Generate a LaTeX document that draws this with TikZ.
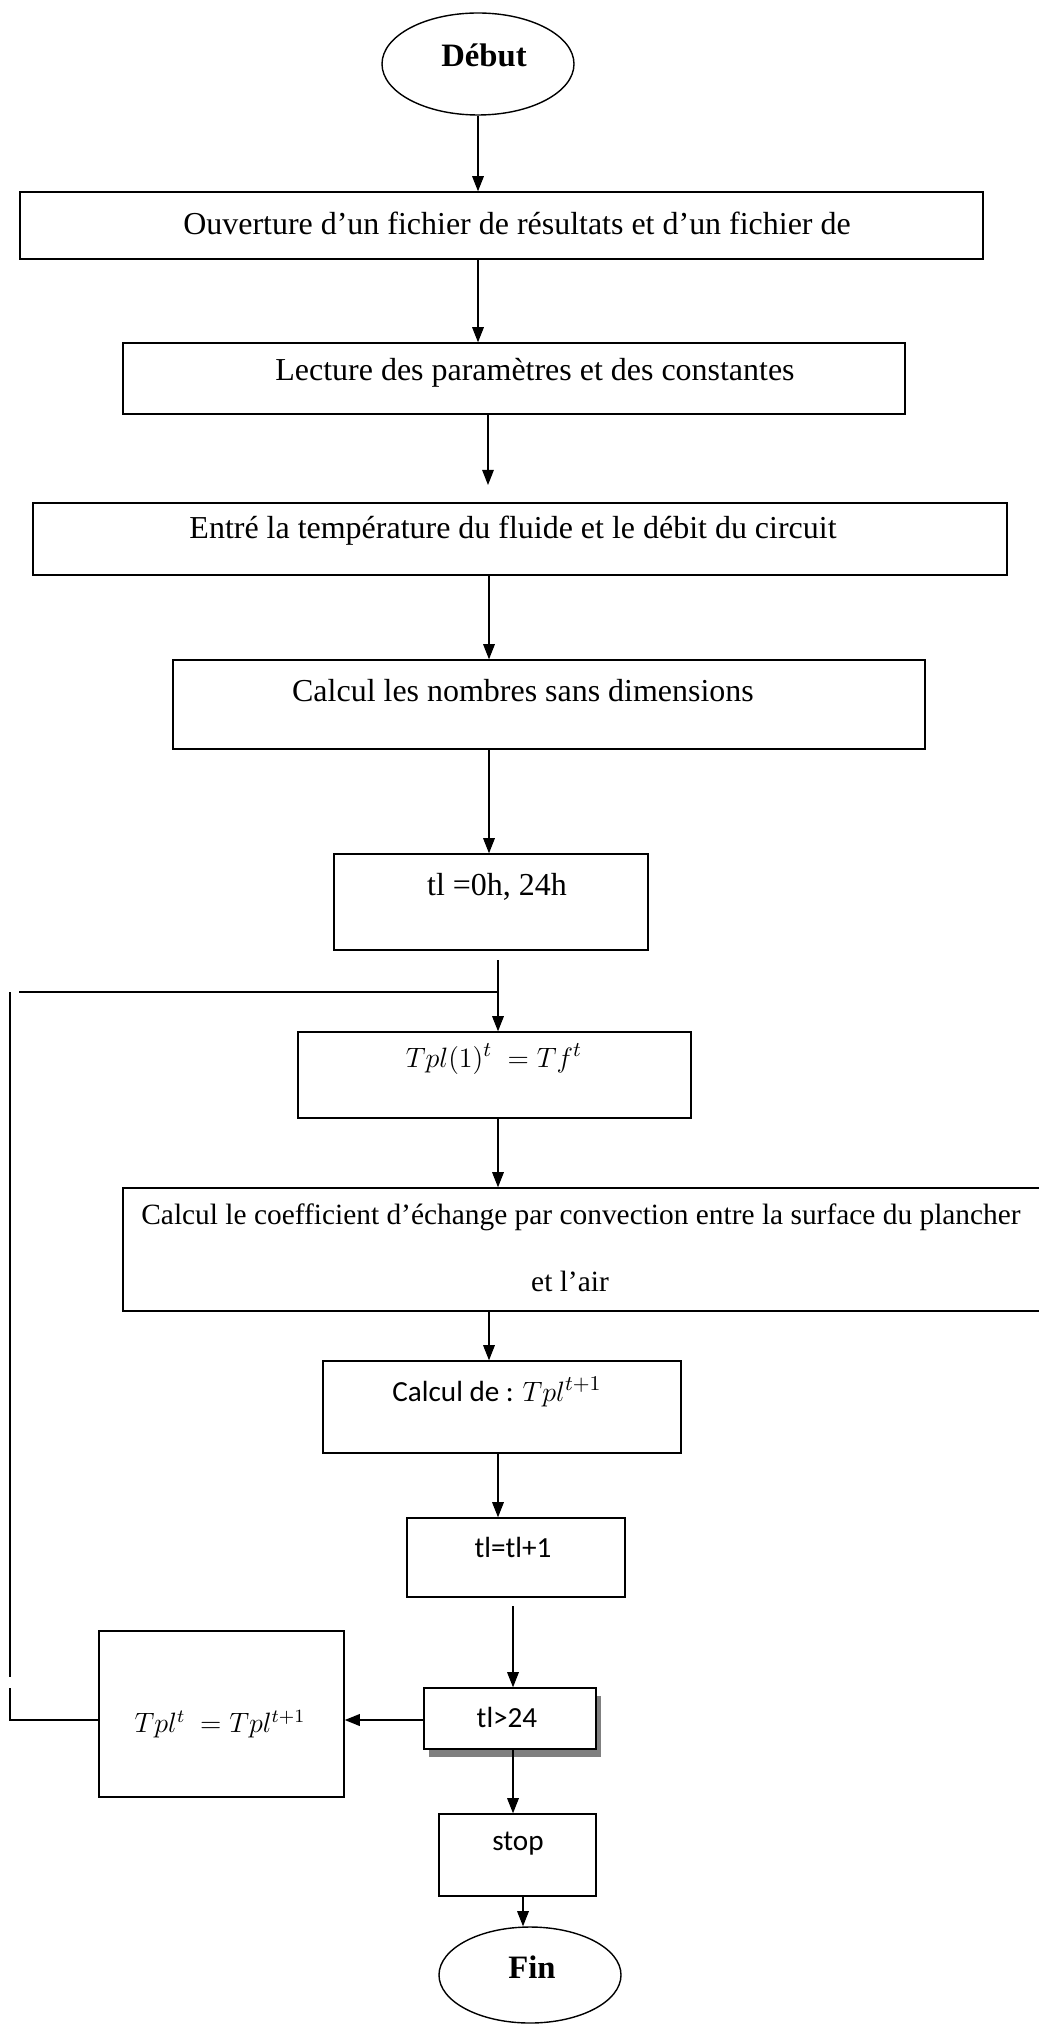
\documentclass[tikz,border=0pt]{standalone}
\usepackage{fontspec}
\setmainfont{Liberation Serif}
\newfontfamily\calib{Carlito}
\usetikzlibrary{arrows.meta,fit,shapes.geometric}
\begin{document}
\begin{tikzpicture}[x=0.4286pt,y=-0.4286pt,
  box/.style={draw,line width=0.6pt,inner sep=0pt,fill=white},
  oval/.style={draw,ellipse,line width=0.6pt,inner sep=0pt,fill=white},
  conn/.style={line width=0.5pt},
  arr/.style={conn,-{Triangle[length=6.5pt,width=5pt]}},
  txt/.style={font=\fontsize{13.7}{16}\selectfont, inner sep=0pt},
  ntxt/.style={font=\fontsize{12.6}{15}\selectfont, inner sep=0pt},
  mtxt/.style={font=\fontsize{12}{14}\selectfont, inner sep=0pt},
  ctxt/.style={font=\fontsize{12.5}{15}\selectfont\calib, inner sep=0pt},
  btxt/.style={font=\fontsize{14}{16}\selectfont\bfseries, inner sep=0pt}]
\useasboundingbox (0,0) rectangle (1038,2024);

% start / end
\node[oval, minimum width=192*0.4286pt, minimum height=102*0.4286pt] (deb) at (478,64) {};
\node[btxt] (tdeb) at (484,55) {Début};

% boxes
\node[box, fit={(20,192)(983,259)}] (b1) {};
\node[txt] (t1) at (517,223) {Ouverture d’un fichier de résultats et d’un fichier de};
\node[box, fit={(123,343)(905,414)}] (b2) {};
\node[txt] (t2) at (535,373) {Lecture des paramètres et des constantes};
\node[box, fit={(33,503)(1007,575)}] (b3) {};
\node[txt] (t3) at (513,531) {Entré la température du fluide et le débit du circuit};
\node[box, fit={(173,660)(925,749)}] (b4) {};
\node[txt] (t4) at (523,691) {Calcul les nombres sans dimensions};
\node[box, fit={(334,854)(648,950)}] (b5) {};
\node[txt] (t5) at (497,887) {tl =0h, 24h};
\node[box, fit={(298,1032)(691,1118)}] (b6) {};
\node[mtxt, font=\fontsize{13}{15}\selectfont] (t6) at (494,1059) {$Tpl(1)^t\ = Tf^t$};
\node[box, fit={(123,1188)(1048,1311)}] (b7) {};
\node[ntxt] (t7a) at (581,1217) {Calcul le coefficient d’échange par convection entre la surface du plancher};
\node[ntxt] (t7b) at (570,1281) {et l’air};
\node[box, fit={(323,1361)(681,1453)}] (b8) {};
\node[ctxt] (t8) at (497,1392) {Calcul de : $Tpl^{t+1}$};
\node[box, fit={(407,1518)(625,1597)}] (b9) {};
\node[ctxt] (t9) at (513,1547) {tl=tl+1};
\node[fill={rgb,255:red,128;green,128;blue,128}, inner sep=0pt, fit={(429,1696)(601,1757)}] (b10s) {};
\node[box, fit={(424,1688)(596,1749)}] (b10) {};
\node[ctxt] (t10) at (507,1717) {tl>24};
\node[box, fit={(99,1631)(344,1797)}] (b11) {};
\node[mtxt] (t11) at (220,1724) {$Tpl^t\ = Tpl^{t+1}$};
\node[box, fit={(439,1814)(596,1896)}] (b12) {};
\node[ctxt] (t12) at (518,1844) {stop};
\node[oval, minimum width=182*0.4286pt, minimum height=96*0.4286pt] (fin) at (530,1975) {};
\node[btxt] (tfin) at (532,1967) {Fin};

% helper coordinates
\coordinate (k3) at (488,485);
\coordinate (k4) at (489,0);
\coordinate (s6) at (498,960);
\coordinate (j6) at (498,992);
\coordinate (l1) at (19,992);
\coordinate (v1) at (10,992);
\coordinate (v2) at (10,1677);
\coordinate (v3) at (10,1688);
\coordinate (v4) at (10,1720);
\coordinate (s10) at (513,1606);
\coordinate (k14) at (523,0);

% connectors
\draw[arr] (deb.south) -- (deb.south |- b1.north);
\draw[arr] (b1.south -| deb.south) -- (b2.north -| deb.south);
\draw[arr] (b2.south -| k3) -- (k3);
\draw[arr] (b3.south -| k4) -- (b4.north -| k4);
\draw[arr] (b4.south -| k4) -- (b5.north -| k4);
\draw[arr] (s6) -- (b6.north -| s6);
\draw[conn] (l1) -- (j6);
\draw[conn] (v1) -- (v2);
\draw[arr] (b6.south -| s6) -- (b7.north -| s6);
\draw[arr] (b7.south -| k4) -- (b8.north -| k4);
\draw[arr] (b8.south -| s6) -- (b9.north -| s6);
\draw[arr] (s10) -- (b10.north -| s10);
\draw[arr, line width=0.8pt] (b10.west |- v4) -- (b11.east |- v4);
\draw[conn] (b11.west |- v4) -- (v4) -- (v3);
\draw[arr] (b10.south -| s10) -- (b12.north -| s10);
\draw[arr] (b12.south -| k14) -- (fin.north -| k14);
\end{tikzpicture}
\end{document}
